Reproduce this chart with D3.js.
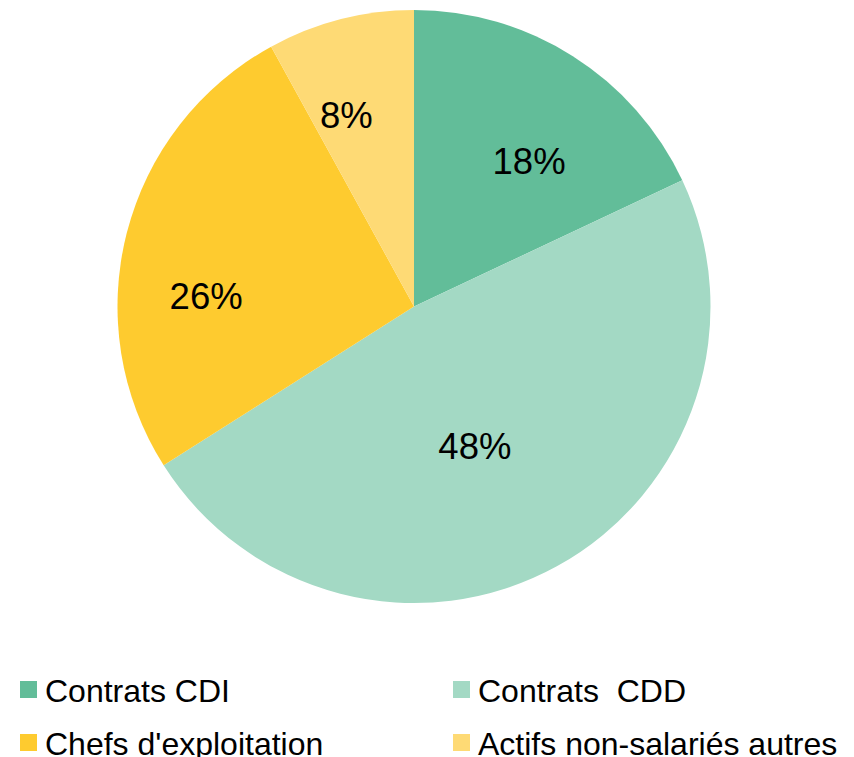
<!DOCTYPE html>
<html>
<head>
<meta charset="utf-8">
<script src="https://cdn.jsdelivr.net/npm/d3@7"></script>
<style>
  html, body { margin: 0; padding: 0; background: #fff; }
  svg { display: block; }
  text { font-family: "Liberation Sans", Arial, sans-serif; }
</style>
</head>
<body>
<script>
// ---- Data ----
const categories = ["Contrats CDI", "Contrats  CDD", "Chefs d'exploitation", "Actifs non-salariés autres"];
const values = [18, 48, 26, 8];
const valueLabels = ["18%", "48%", "26%", "8%"];

// ---- Style / layout ----
const colors = ["#62BD99", "#A3D9C4", "#FECB2F", "#FEDA75"];
const W = 854, H = 757;
const cx = 414, cy = 306.5, R = 296.5;
// label placement (fraction of radius, angular shift in degrees from slice middle)
const labelPlace = [
  { r: 0.625, da: 6.0 },
  { r: 0.513, da: 5.2 },
  { r: 0.702, da: -11.6 },
  { r: 0.687, da: -5.0 }
];

const svg = d3.select("body").append("svg")
  .attr("width", W).attr("height", H);

const pie = d3.pie().sort(null).value(d => d)(values);
const arc = d3.arc().innerRadius(0).outerRadius(R);

const g = svg.append("g").attr("transform", `translate(${cx},${cy})`);

g.selectAll("path.slice")
  .data(pie)
  .join("path")
  .attr("class", "slice")
  .attr("d", arc)
  .attr("fill", (d, i) => colors[i]);

g.selectAll("text.lbl")
  .data(pie)
  .join("text")
  .attr("class", "lbl")
  .attr("x", (d, i) => {
    const a = (d.startAngle + d.endAngle) / 2 + labelPlace[i].da * Math.PI / 180;
    return Math.sin(a) * R * labelPlace[i].r;
  })
  .attr("y", (d, i) => {
    const a = (d.startAngle + d.endAngle) / 2 + labelPlace[i].da * Math.PI / 180;
    return -Math.cos(a) * R * labelPlace[i].r;
  })
  .attr("text-anchor", "middle")
  .attr("dy", "0.36em")
  .attr("font-size", 36.5)
  .attr("fill", "#000")
  .text((d, i) => valueLabels[i]);

// ---- Legend ----
const legX = d3.scaleOrdinal().domain([0, 1]).range([20, 453]);
const legY = d3.scaleOrdinal().domain([0, 1]).range([681, 734]);

const leg = svg.selectAll("g.leg")
  .data(categories)
  .join("g")
  .attr("class", "leg")
  .attr("transform", (d, i) => `translate(${legX(i % 2)},${legY(Math.floor(i / 2))})`);

leg.append("rect")
  .attr("width", 17).attr("height", 17)
  .attr("fill", (d, i) => colors[i]);

leg.append("text")
  .attr("x", 25)
  .attr("y", 20.5)
  .attr("font-size", 32)
  .attr("fill", "#000")
  .style("white-space", "pre")
  .attr("xml:space", "preserve")
  .text(d => d);
</script>
</body>
</html>
